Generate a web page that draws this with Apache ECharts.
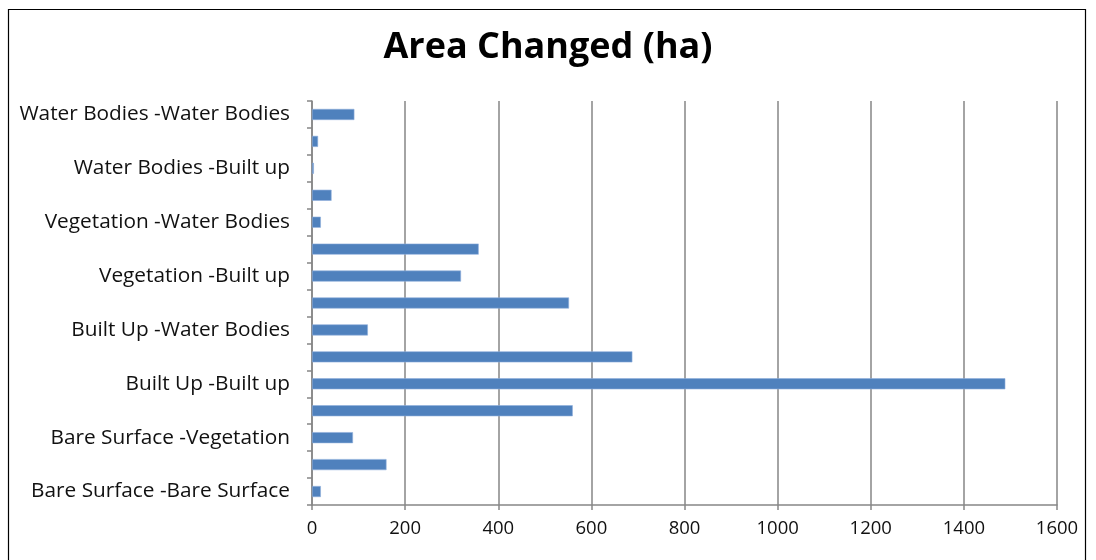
<!DOCTYPE html>
<html>
<head>
<meta charset="utf-8">
<script src="https://cdn.jsdelivr.net/npm/echarts@6/dist/echarts.min.js"></script>
<style>
  html, body { margin: 0; padding: 0; background: #fff; }
  #chart { width: 1096px; height: 560px; }
</style>
</head>
<body>
<div id="chart"></div>
<script>
// Land-cover transitions (from -> to), listed bottom to top
const categories = [
  'Bare Surface -Bare Surface',
  'Bare Surface -Built up',
  'Bare Surface -Vegetation',
  'Bare Surface -Water Bodies',
  'Built Up -Built up',
  'Built Up -Vegetation',
  'Built Up -Water Bodies',
  'Vegetation -Bare Surface',
  'Vegetation -Built up',
  'Vegetation -Vegetation',
  'Vegetation -Water Bodies',
  'Water Bodies -Bare Surface',
  'Water Bodies -Built up',
  'Water Bodies -Vegetation',
  'Water Bodies -Water Bodies'
];

// Area changed in hectares
const areaChanged = [19, 160, 88, 560, 1489, 688, 120, 552, 320, 358, 19, 42, 4, 13, 91];

const xTicks = { min: 0, max: 1600, interval: 200 };

const chart = echarts.init(document.getElementById('chart'), null, { renderer: 'canvas' });

const font = '"Open Sans", Lato, sans-serif';

chart.setOption({
  animation: false,
  backgroundColor: '#ffffff',
  title: {
    text: 'Area Changed (ha)',
    left: 'center',
    top: 25,
    textStyle: { fontFamily: font, fontSize: 36, fontWeight: 'bold', color: '#000' }
  },
  graphic: [{
    type: 'rect',
    shape: { x: 8.5, y: 9.5, width: 1077, height: 600 },
    style: { fill: 'none', stroke: '#000', lineWidth: 1.2 },
    silent: true
  }],
  grid: { left: 312, right: 39, top: 101, bottom: 55, containLabel: false },
  xAxis: {
    type: 'value',
    min: xTicks.min,
    max: xTicks.max,
    interval: xTicks.interval,
    axisLine: { show: true, lineStyle: { color: '#868686', width: 1.5 } },
    axisTick: { show: true, length: 5, lineStyle: { color: '#868686', width: 1.5 } },
    axisLabel: {
      margin: 14, fontFamily: font, fontSize: 18.5, color: '#111',
      formatter: (v) => String(v)
    },
    splitLine: { show: true, lineStyle: { color: '#868686', width: 1.5 } }
  },
  yAxis: {
    type: 'category',
    data: categories,
    axisLine: { show: true, lineStyle: { color: '#868686', width: 1.5 } },
    axisTick: { show: true, length: 5, interval: 0, lineStyle: { color: '#868686', width: 1.5 } },
    axisLabel: { interval: 1, margin: 22, fontFamily: font, fontSize: 20.8, color: '#111' },
    splitLine: { show: false }
  },
  series: [{
    type: 'bar',
    data: areaChanged,
    barWidth: '41%',
    itemStyle: { color: '#4F81BD', borderColor: '#8eaedb', borderWidth: 0.6 }
  }]
});
</script>
</body>
</html>
